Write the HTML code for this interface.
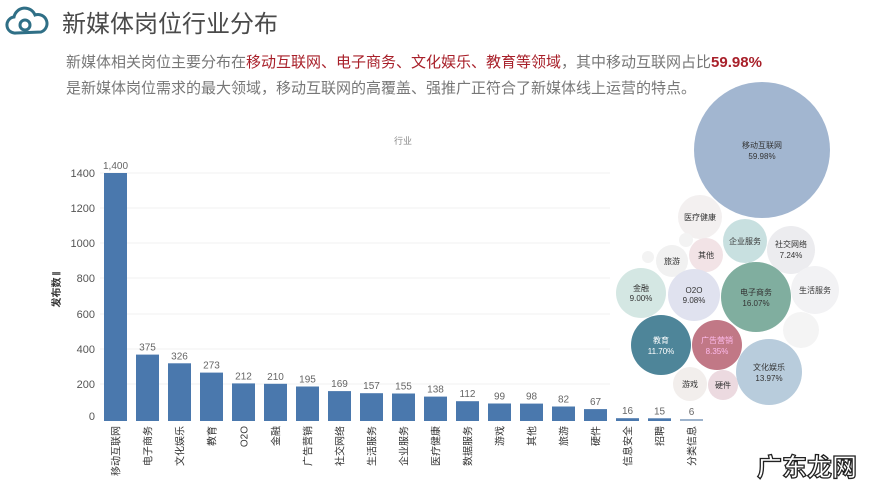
<!DOCTYPE html>
<html><head><meta charset="utf-8"><style>
body{margin:0;background:#fff;}
svg{display:block;font-family:"Liberation Sans","Noto Sans CJK SC",sans-serif;}
</style></head><body>
<svg width="889" height="500" viewBox="0 0 889 500" xmlns="http://www.w3.org/2000/svg">
<rect width="889" height="500" fill="#fff"/>
<g fill="none" stroke="#2f6f86" stroke-width="3">
<path d="M16 33 a8 8 0 0 1 -2 -16 a11 11 0 0 1 21 -2 a9 9 0 0 1 6 17 z"/>
<circle cx="25" cy="25" r="5"/>
</g>
<text x="62" y="32" font-size="24" fill="#4a4a4a">新媒体岗位行业分布</text>
<text x="66" y="67" font-size="15" fill="#777">新媒体相关岗位主要分布在<tspan fill="#a8202a">移动互联网、电子商务、文化娱乐、教育等领域</tspan>，其中移动互联网占比<tspan fill="#a8202a" font-weight="bold">59.98%</tspan></text>
<text x="66" y="93" font-size="15" fill="#777">是新媒体岗位需求的最大领域，移动互联网的高覆盖、强推广正符合了新媒体线上运营的特点。</text>
<text x="403" y="144" font-size="9" fill="#888" text-anchor="middle">行业</text>
<g stroke="#f0f0f0" stroke-width="1">
<line x1="100" x2="610" y1="173" y2="173"/><line x1="100" x2="610" y1="208" y2="208"/>
<line x1="100" x2="610" y1="243" y2="243"/><line x1="100" x2="610" y1="278" y2="278"/>
<line x1="100" x2="610" y1="314" y2="314"/><line x1="100" x2="610" y1="349" y2="349"/>
<line x1="100" x2="610" y1="384" y2="384"/>
</g>
<g font-size="11" fill="#555" text-anchor="end">
<text x="95" y="177">1400</text><text x="95" y="212">1200</text><text x="95" y="247">1000</text>
<text x="95" y="282">800</text><text x="95" y="318">600</text><text x="95" y="353">400</text>
<text x="95" y="388">200</text><text x="95" y="420">0</text>
</g>
<text transform="translate(60,290) rotate(-90)" font-size="10" font-weight="bold" fill="#333" text-anchor="middle">发布数 𝄂</text>
<g fill="#4a78ad">
<rect x="104" y="173" width="23" height="248"/>
<rect x="136" y="354.6" width="23" height="66.4"/>
<rect x="168" y="363.3" width="23" height="57.7"/>
<rect x="200" y="372.6" width="23" height="48.4"/>
<rect x="232" y="383.4" width="23" height="37.6"/>
<rect x="264" y="383.8" width="23" height="37.2"/>
<rect x="296" y="386.5" width="23" height="34.5"/>
<rect x="328" y="391.1" width="23" height="29.9"/>
<rect x="360" y="393.2" width="23" height="27.8"/>
<rect x="392" y="393.5" width="23" height="27.5"/>
<rect x="424" y="396.6" width="23" height="24.4"/>
<rect x="456" y="401.2" width="23" height="19.8"/>
<rect x="488" y="403.5" width="23" height="17.5"/>
<rect x="520" y="403.6" width="23" height="17.4"/>
<rect x="552" y="406.5" width="23" height="14.5"/>
<rect x="584" y="409.1" width="23" height="11.9"/>
<rect x="616" y="418.2" width="23" height="2.8"/>
<rect x="648" y="418.3" width="23" height="2.7"/>
<rect x="680" y="419" width="23" height="2" fill="#9db3cc"/>
</g>
<g font-size="10" fill="#666" text-anchor="middle">
<text x="115.5" y="169">1,400</text>
<text x="147.5" y="350.6">375</text>
<text x="179.5" y="359.3">326</text>
<text x="211.5" y="368.6">273</text>
<text x="243.5" y="379.4">212</text>
<text x="275.5" y="379.8">210</text>
<text x="307.5" y="382.5">195</text>
<text x="339.5" y="387.1">169</text>
<text x="371.5" y="389.2">157</text>
<text x="403.5" y="389.5">155</text>
<text x="435.5" y="392.6">138</text>
<text x="467.5" y="397.2">112</text>
<text x="499.5" y="399.5">99</text>
<text x="531.5" y="399.6">98</text>
<text x="563.5" y="402.5">82</text>
<text x="595.5" y="405.1">67</text>
<text x="627.5" y="414.2">16</text>
<text x="659.5" y="414.3">15</text>
<text x="691.5" y="415">6</text>
</g>
<g font-size="10" fill="#333" text-anchor="end">
<text transform="translate(119.5,426) rotate(-90)">移动互联网</text>
<text transform="translate(151.5,426) rotate(-90)">电子商务</text>
<text transform="translate(183.5,426) rotate(-90)">文化娱乐</text>
<text transform="translate(215.5,426) rotate(-90)">教育</text>
<text transform="translate(247.5,426) rotate(-90)">O2O</text>
<text transform="translate(279.5,426) rotate(-90)">金融</text>
<text transform="translate(311.5,426) rotate(-90)">广告营销</text>
<text transform="translate(343.5,426) rotate(-90)">社交网络</text>
<text transform="translate(375.5,426) rotate(-90)">生活服务</text>
<text transform="translate(407.5,426) rotate(-90)">企业服务</text>
<text transform="translate(439.5,426) rotate(-90)">医疗健康</text>
<text transform="translate(471.5,426) rotate(-90)">数据服务</text>
<text transform="translate(503.5,426) rotate(-90)">游戏</text>
<text transform="translate(535.5,426) rotate(-90)">其他</text>
<text transform="translate(567.5,426) rotate(-90)">旅游</text>
<text transform="translate(599.5,426) rotate(-90)">硬件</text>
<text transform="translate(631.5,426) rotate(-90)">信息安全</text>
<text transform="translate(663.5,426) rotate(-90)">招聘</text>
<text transform="translate(695.5,426) rotate(-90)">分类信息</text>
</g>
<circle cx="762" cy="150" r="68" fill="#a2b6d0"/>
<circle cx="700" cy="217" r="22" fill="#f3f0f0"/>
<circle cx="686" cy="240" r="7" fill="#f3f3f3"/>
<circle cx="648" cy="257" r="6" fill="#f3f3f3"/>
<circle cx="745" cy="241" r="22" fill="#c8e0e0"/>
<circle cx="791" cy="250" r="24" fill="#ececef"/>
<circle cx="706" cy="255" r="17" fill="#f2e3e6"/>
<circle cx="672" cy="261" r="16" fill="#f1f1f1"/>
<circle cx="641" cy="293" r="25" fill="#d4e7e3"/>
<circle cx="694" cy="295" r="26" fill="#e0e2ef"/>
<circle cx="756" cy="297" r="35" fill="#80ae9f"/>
<circle cx="815" cy="290" r="24" fill="#f2f2f4"/>
<circle cx="801" cy="330" r="18" fill="#f4f4f4"/>
<circle cx="661" cy="345" r="30" fill="#4e8599"/>
<circle cx="717" cy="345" r="25" fill="#c17886"/>
<circle cx="769" cy="372" r="33" fill="#b8ccdc"/>
<circle cx="690" cy="384" r="17" fill="#f2eeec"/>
<circle cx="723" cy="385" r="15" fill="#ecdae0"/>
<g font-size="8" fill="#333" text-anchor="middle">
<text x="762" y="148">移动互联网</text><text x="762" y="159">59.98%</text>
<text x="700" y="220">医疗健康</text>
<text x="745" y="244">企业服务</text>
<text x="791" y="247">社交网络</text><text x="791" y="258">7.24%</text>
<text x="706" y="258">其他</text>
<text x="672" y="264">旅游</text>
<text x="641" y="291">金融</text><text x="641" y="301">9.00%</text>
<text x="694" y="293">O2O</text><text x="694" y="303">9.08%</text>
<text x="756" y="295">电子商务</text><text x="756" y="306">16.07%</text>
<text x="815" y="293">生活服务</text>
<text x="661" y="343" fill="#fff">教育</text><text x="661" y="354" fill="#fff">11.70%</text>
<text x="717" y="343" fill="#fbe">广告营销</text><text x="717" y="354" fill="#fbe">8.35%</text>
<text x="769" y="370">文化娱乐</text><text x="769" y="381">13.97%</text>
<text x="690" y="387">游戏</text>
<text x="723" y="388">硬件</text>
</g>
<text x="757" y="476" font-size="25" font-weight="bold" fill="#fff" stroke="#222" stroke-width="1.3" font-family="'Noto Sans CJK SC',sans-serif">广东龙网</text>
</svg>
</body></html>
